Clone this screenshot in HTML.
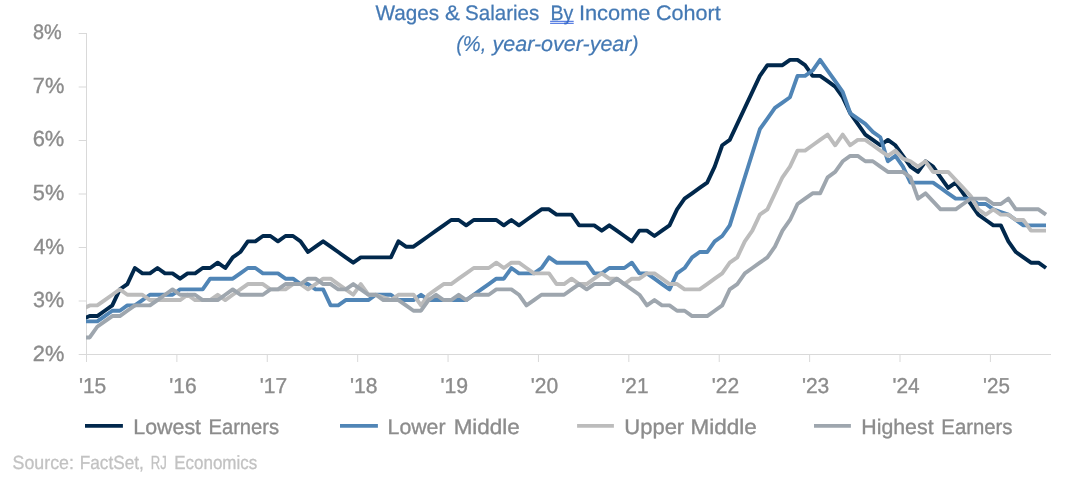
<!DOCTYPE html>
<html><head><meta charset="utf-8"><title>Wages &amp; Salaries By Income Cohort</title>
<style>html,body{margin:0;padding:0;background:#fff;}body{width:1087px;height:484px;overflow:hidden;}
svg{display:block;font-family:"Liberation Sans", sans-serif;will-change:transform;}</style></head>
<body>
<svg width="1087" height="484" viewBox="0 0 1087 484" text-rendering="geometricPrecision">
<defs><clipPath id="pa"><rect x="86" y="0" width="965" height="360"/></clipPath></defs>
<rect width="1087" height="484" fill="#fff"/>
<g stroke="#d9d9d9" stroke-width="1" fill="none">
<line x1="86.5" y1="33" x2="86.5" y2="355" shape-rendering="crispEdges"/>
<line x1="86" y1="354.5" x2="1050.5" y2="354.5" shape-rendering="crispEdges"/>
<line x1="78.7" y1="354.5" x2="86.5" y2="354.5"/>
<line x1="78.7" y1="301.0" x2="86.5" y2="301.0"/>
<line x1="78.7" y1="247.5" x2="86.5" y2="247.5"/>
<line x1="78.7" y1="194.0" x2="86.5" y2="194.0"/>
<line x1="78.7" y1="140.5" x2="86.5" y2="140.5"/>
<line x1="78.7" y1="87.0" x2="86.5" y2="87.0"/>
<line x1="78.7" y1="33.5" x2="86.5" y2="33.5"/>
<line x1="86.50" y1="355" x2="86.50" y2="362"/>
<line x1="176.89" y1="355" x2="176.89" y2="362"/>
<line x1="267.28" y1="355" x2="267.28" y2="362"/>
<line x1="357.67" y1="355" x2="357.67" y2="362"/>
<line x1="448.06" y1="355" x2="448.06" y2="362"/>
<line x1="538.45" y1="355" x2="538.45" y2="362"/>
<line x1="628.84" y1="355" x2="628.84" y2="362"/>
<line x1="719.23" y1="355" x2="719.23" y2="362"/>
<line x1="809.62" y1="355" x2="809.62" y2="362"/>
<line x1="900.01" y1="355" x2="900.01" y2="362"/>
<line x1="990.40" y1="355" x2="990.40" y2="362"/>
</g>
<g clip-path="url(#pa)" fill="none" stroke-width="3.9" stroke-linejoin="round" stroke-linecap="butt">
<path d="M82.17,319.28 L89.70,316.07 L97.23,316.07 L104.76,310.74 L112.29,305.40 L119.82,289.38 L127.35,284.05 L134.88,268.03 L142.41,273.37 L149.94,273.37 L157.47,268.03 L165.00,273.37 L172.53,273.37 L180.06,278.71 L187.59,273.37 L195.12,273.37 L202.65,268.03 L210.18,268.03 L217.71,262.69 L225.24,268.03 L232.77,257.36 L240.30,252.02 L247.83,241.34 L255.36,241.34 L262.89,236.00 L270.42,236.00 L277.95,241.34 L285.48,236.00 L293.01,236.00 L300.54,241.34 L308.07,252.02 L315.60,246.68 L323.13,241.34 L330.66,246.68 L338.19,252.02 L345.72,257.36 L353.25,262.69 L360.78,257.36 L368.31,257.36 L375.84,257.36 L383.37,257.36 L390.90,257.36 L398.43,241.34 L405.96,246.68 L413.49,246.68 L421.02,241.34 L428.55,236.00 L436.08,230.67 L443.61,225.33 L451.14,219.99 L458.67,219.99 L466.20,225.33 L473.73,219.99 L481.26,219.99 L488.79,219.99 L496.32,219.99 L503.85,225.33 L511.38,219.99 L518.91,225.33 L526.44,219.99 L533.97,214.65 L541.50,209.31 L549.03,209.31 L556.56,214.65 L564.09,214.65 L571.62,214.65 L579.15,225.33 L586.68,225.33 L594.21,225.33 L601.74,230.67 L609.27,225.33 L616.80,230.67 L624.33,236.00 L631.86,241.34 L639.39,230.67 L646.92,230.67 L654.45,236.00 L661.98,230.67 L669.51,225.33 L677.04,209.31 L684.57,198.64 L692.10,193.30 L699.63,187.96 L707.16,182.62 L714.69,166.61 L722.22,145.26 L729.75,139.92 L737.28,123.91 L744.81,107.89 L752.34,91.88 L759.87,75.86 L767.40,65.19 L774.93,65.19 L782.46,65.19 L789.99,59.85 L797.52,59.85 L805.05,65.19 L812.58,75.86 L820.11,75.86 L827.64,81.20 L835.17,86.54 L842.70,97.22 L850.23,113.23 L857.76,123.91 L865.29,134.58 L872.82,139.92 L880.35,145.26 L887.88,139.92 L895.41,145.26 L902.94,155.93 L910.47,166.61 L918.00,171.95 L925.53,161.27 L933.06,166.61 L940.59,177.29 L948.12,187.96 L955.65,182.62 L963.18,193.30 L970.71,203.98 L978.24,214.65 L985.77,219.99 L993.30,225.33 L1000.83,225.33 L1008.36,241.34 L1015.89,252.02 L1023.42,257.36 L1030.95,262.69 L1038.48,262.69 L1046.01,268.03" stroke="#01284c"/>
<path d="M82.17,321.41 L89.70,321.41 L97.23,321.41 L104.76,316.07 L112.29,310.74 L119.82,310.74 L127.35,305.40 L134.88,305.40 L142.41,300.06 L149.94,294.72 L157.47,294.72 L165.00,294.72 L172.53,294.72 L180.06,289.38 L187.59,289.38 L195.12,289.38 L202.65,289.38 L210.18,278.71 L217.71,278.71 L225.24,278.71 L232.77,278.71 L240.30,273.37 L247.83,268.03 L255.36,268.03 L262.89,273.37 L270.42,273.37 L277.95,273.37 L285.48,278.71 L293.01,278.71 L300.54,284.05 L308.07,284.05 L315.60,289.38 L323.13,289.38 L330.66,305.40 L338.19,305.40 L345.72,300.06 L353.25,300.06 L360.78,300.06 L368.31,300.06 L375.84,294.72 L383.37,294.72 L390.90,294.72 L398.43,300.06 L405.96,300.06 L413.49,300.06 L421.02,294.72 L428.55,300.06 L436.08,300.06 L443.61,300.06 L451.14,300.06 L458.67,300.06 L466.20,300.06 L473.73,294.72 L481.26,289.38 L488.79,284.05 L496.32,278.71 L503.85,278.71 L511.38,268.03 L518.91,273.37 L526.44,273.37 L533.97,273.37 L541.50,268.03 L549.03,257.36 L556.56,262.69 L564.09,262.69 L571.62,262.69 L579.15,262.69 L586.68,262.69 L594.21,273.37 L601.74,273.37 L609.27,268.03 L616.80,268.03 L624.33,268.03 L631.86,262.69 L639.39,273.37 L646.92,273.37 L654.45,278.71 L661.98,284.05 L669.51,289.38 L677.04,273.37 L684.57,268.03 L692.10,257.36 L699.63,252.02 L707.16,252.02 L714.69,241.34 L722.22,236.00 L729.75,225.33 L737.28,201.31 L744.81,177.29 L752.34,153.26 L759.87,129.24 L767.40,118.57 L774.93,107.89 L782.46,102.55 L789.99,97.22 L797.52,75.86 L805.05,75.86 L812.58,70.53 L820.11,59.85 L827.64,70.53 L835.17,81.20 L842.70,91.88 L850.23,113.23 L857.76,118.57 L865.29,123.91 L872.82,131.91 L880.35,137.25 L887.88,161.27 L895.41,155.93 L902.94,166.61 L910.47,182.62 L918.00,182.62 L925.53,182.62 L933.06,182.62 L940.59,187.96 L948.12,193.30 L955.65,198.64 L963.18,198.64 L970.71,198.64 L978.24,203.98 L985.77,203.98 L993.30,209.31 L1000.83,211.98 L1008.36,214.65 L1015.89,219.99 L1023.42,225.33 L1030.95,225.33 L1038.48,225.33 L1046.01,225.33" stroke="#5085b6"/>
<path d="M82.17,309.13 L89.70,305.40 L97.23,305.40 L104.76,300.06 L112.29,294.72 L119.82,289.38 L127.35,294.72 L134.88,294.72 L142.41,294.72 L149.94,300.06 L157.47,300.06 L165.00,300.06 L172.53,300.06 L180.06,300.06 L187.59,294.72 L195.12,300.06 L202.65,300.06 L210.18,300.06 L217.71,294.72 L225.24,300.06 L232.77,294.72 L240.30,289.38 L247.83,284.05 L255.36,284.05 L262.89,284.05 L270.42,289.38 L277.95,289.38 L285.48,289.38 L293.01,284.05 L300.54,284.05 L308.07,289.38 L315.60,284.05 L323.13,278.71 L330.66,278.71 L338.19,284.05 L345.72,289.38 L353.25,294.72 L360.78,284.05 L368.31,294.72 L375.84,294.72 L383.37,297.39 L390.90,300.06 L398.43,294.72 L405.96,294.72 L413.49,294.72 L421.02,305.40 L428.55,294.72 L436.08,289.38 L443.61,284.05 L451.14,284.05 L458.67,278.71 L466.20,273.37 L473.73,268.03 L481.26,268.03 L488.79,268.03 L496.32,262.69 L503.85,268.03 L511.38,262.69 L518.91,262.69 L526.44,268.03 L533.97,273.37 L541.50,273.37 L549.03,273.37 L556.56,284.05 L564.09,284.05 L571.62,278.71 L579.15,284.05 L586.68,284.05 L594.21,278.71 L601.74,273.37 L609.27,278.71 L616.80,278.71 L624.33,284.05 L631.86,278.71 L639.39,278.71 L646.92,273.37 L654.45,273.37 L661.98,278.71 L669.51,284.05 L677.04,284.05 L684.57,289.38 L692.10,289.38 L699.63,289.38 L707.16,284.05 L714.69,278.71 L722.22,273.37 L729.75,262.69 L737.28,257.36 L744.81,241.34 L752.34,230.67 L759.87,214.65 L767.40,209.31 L774.93,193.30 L782.46,177.29 L789.99,166.61 L797.52,150.60 L805.05,150.60 L812.58,145.26 L820.11,139.92 L827.64,134.58 L835.17,145.26 L842.70,134.58 L850.23,145.26 L857.76,139.92 L865.29,139.92 L872.82,145.26 L880.35,150.60 L887.88,155.93 L895.41,150.60 L902.94,158.60 L910.47,161.27 L918.00,166.61 L925.53,161.27 L933.06,171.95 L940.59,171.95 L948.12,171.95 L955.65,179.95 L963.18,187.96 L970.71,195.97 L978.24,209.31 L985.77,214.65 L993.30,209.31 L1000.83,214.65 L1008.36,214.65 L1015.89,219.99 L1023.42,219.99 L1030.95,230.67 L1038.48,230.67 L1046.01,230.67" stroke="#bcbcbc"/>
<path d="M82.17,337.43 L89.70,337.43 L97.23,326.75 L104.76,321.41 L112.29,316.07 L119.82,316.07 L127.35,310.74 L134.88,305.40 L142.41,305.40 L149.94,305.40 L157.47,300.06 L165.00,294.72 L172.53,289.38 L180.06,294.72 L187.59,294.72 L195.12,294.72 L202.65,300.06 L210.18,300.06 L217.71,300.06 L225.24,294.72 L232.77,289.38 L240.30,294.72 L247.83,294.72 L255.36,294.72 L262.89,294.72 L270.42,289.38 L277.95,289.38 L285.48,284.05 L293.01,284.05 L300.54,284.05 L308.07,278.71 L315.60,278.71 L323.13,284.05 L330.66,284.05 L338.19,289.38 L345.72,289.38 L353.25,284.05 L360.78,289.38 L368.31,294.72 L375.84,294.72 L383.37,300.06 L390.90,300.06 L398.43,300.06 L405.96,305.40 L413.49,310.74 L421.02,310.74 L428.55,300.06 L436.08,294.72 L443.61,300.06 L451.14,300.06 L458.67,294.72 L466.20,300.06 L473.73,294.72 L481.26,294.72 L488.79,294.72 L496.32,289.38 L503.85,289.38 L511.38,289.38 L518.91,294.72 L526.44,305.40 L533.97,300.06 L541.50,294.72 L549.03,294.72 L556.56,294.72 L564.09,294.72 L571.62,289.38 L579.15,284.05 L586.68,289.38 L594.21,284.05 L601.74,284.05 L609.27,284.05 L616.80,278.71 L624.33,284.05 L631.86,289.38 L639.39,294.72 L646.92,305.40 L654.45,300.06 L661.98,305.40 L669.51,305.40 L677.04,310.74 L684.57,310.74 L692.10,316.07 L699.63,316.07 L707.16,316.07 L714.69,310.74 L722.22,305.40 L729.75,289.38 L737.28,284.05 L744.81,273.37 L752.34,268.03 L759.87,262.69 L767.40,257.36 L774.93,246.68 L782.46,230.67 L789.99,219.99 L797.52,203.98 L805.05,198.64 L812.58,193.30 L820.11,193.30 L827.64,177.29 L835.17,171.95 L842.70,161.27 L850.23,155.93 L857.76,155.93 L865.29,161.27 L872.82,161.27 L880.35,166.61 L887.88,171.95 L895.41,171.95 L902.94,171.95 L910.47,177.29 L918.00,198.64 L925.53,193.30 L933.06,201.31 L940.59,209.31 L948.12,209.31 L955.65,209.31 L963.18,203.98 L970.71,198.64 L978.24,198.64 L985.77,198.64 L993.30,203.98 L1000.83,203.98 L1008.36,198.64 L1015.89,209.31 L1023.42,209.31 L1030.95,209.31 L1038.48,209.31 L1046.01,214.65" stroke="#9ea6ae"/>
</g>
<line x1="85.0" y1="425.9" x2="122.9" y2="425.9" stroke="#01284c" stroke-width="3.9"/>
<line x1="340.0" y1="425.9" x2="377.9" y2="425.9" stroke="#5085b6" stroke-width="3.9"/>
<line x1="577.1" y1="425.9" x2="613.9" y2="425.9" stroke="#bcbcbc" stroke-width="3.9"/>
<line x1="814.0" y1="425.9" x2="850.9" y2="425.9" stroke="#9ea6ae" stroke-width="3.9"/>
<text x="32.91" y="39.10" font-size="21.00" textLength="28.70" lengthAdjust="spacingAndGlyphs" fill="#8c8c8c" stroke="#8c8c8c" stroke-width="0.35">8%</text>
<text x="32.78" y="93.30" font-size="21.90" textLength="31.58" lengthAdjust="spacingAndGlyphs" fill="#8c8c8c" stroke="#8c8c8c" stroke-width="0.35">7%</text>
<text x="32.66" y="146.40" font-size="21.90" textLength="31.67" lengthAdjust="spacingAndGlyphs" fill="#8c8c8c" stroke="#8c8c8c" stroke-width="0.35">6%</text>
<text x="32.78" y="200.30" font-size="21.90" textLength="31.50" lengthAdjust="spacingAndGlyphs" fill="#8c8c8c" stroke="#8c8c8c" stroke-width="0.35">5%</text>
<text x="33.46" y="253.80" font-size="21.90" textLength="30.90" lengthAdjust="spacingAndGlyphs" fill="#8c8c8c" stroke="#8c8c8c" stroke-width="0.35">4%</text>
<text x="33.12" y="306.90" font-size="21.90" textLength="31.16" lengthAdjust="spacingAndGlyphs" fill="#8c8c8c" stroke="#8c8c8c" stroke-width="0.35">3%</text>
<text x="32.80" y="361.30" font-size="21.90" textLength="31.54" lengthAdjust="spacingAndGlyphs" fill="#8c8c8c" stroke="#8c8c8c" stroke-width="0.35">2%</text>
<text x="78.88" y="392.70" font-size="21.50" textLength="27.44" lengthAdjust="spacingAndGlyphs" fill="#8c8c8c" stroke="#8c8c8c" stroke-width="0.35">'15</text>
<text x="169.37" y="392.70" font-size="21.50" textLength="27.35" lengthAdjust="spacingAndGlyphs" fill="#8c8c8c" stroke="#8c8c8c" stroke-width="0.35">'16</text>
<text x="259.73" y="392.70" font-size="21.50" textLength="27.37" lengthAdjust="spacingAndGlyphs" fill="#8c8c8c" stroke="#8c8c8c" stroke-width="0.35">'17</text>
<text x="349.94" y="392.70" font-size="21.50" textLength="27.47" lengthAdjust="spacingAndGlyphs" fill="#8c8c8c" stroke="#8c8c8c" stroke-width="0.35">'18</text>
<text x="440.44" y="392.70" font-size="21.50" textLength="27.70" lengthAdjust="spacingAndGlyphs" fill="#8c8c8c" stroke="#8c8c8c" stroke-width="0.35">'19</text>
<text x="530.73" y="392.70" font-size="21.50" textLength="27.39" lengthAdjust="spacingAndGlyphs" fill="#8c8c8c" stroke="#8c8c8c" stroke-width="0.35">'20</text>
<text x="621.35" y="392.70" font-size="21.50" textLength="27.13" lengthAdjust="spacingAndGlyphs" fill="#8c8c8c" stroke="#8c8c8c" stroke-width="0.35">'21</text>
<text x="711.72" y="392.70" font-size="21.50" textLength="27.34" lengthAdjust="spacingAndGlyphs" fill="#8c8c8c" stroke="#8c8c8c" stroke-width="0.35">'22</text>
<text x="801.94" y="392.70" font-size="21.50" textLength="27.32" lengthAdjust="spacingAndGlyphs" fill="#8c8c8c" stroke="#8c8c8c" stroke-width="0.35">'23</text>
<text x="892.55" y="392.70" font-size="21.50" textLength="27.10" lengthAdjust="spacingAndGlyphs" fill="#8c8c8c" stroke="#8c8c8c" stroke-width="0.35">'24</text>
<text x="983.05" y="392.70" font-size="21.50" textLength="26.86" lengthAdjust="spacingAndGlyphs" fill="#8c8c8c" stroke="#8c8c8c" stroke-width="0.35">'25</text>
<text x="375.43" y="19.50" font-size="21.00" textLength="63.74" lengthAdjust="spacingAndGlyphs" fill="#4479b4" stroke="#4479b4" stroke-width="0.25">Wages</text>
<text x="444.97" y="19.50" font-size="21.00" textLength="14.88" lengthAdjust="spacingAndGlyphs" fill="#4479b4" stroke="#4479b4" stroke-width="0.25">&amp;</text>
<text x="465.11" y="19.50" font-size="21.00" textLength="74.19" lengthAdjust="spacingAndGlyphs" fill="#4479b4" stroke="#4479b4" stroke-width="0.25">Salaries</text>
<text x="550.54" y="19.50" font-size="21.00" textLength="22.81" lengthAdjust="spacingAndGlyphs" fill="#4479b4" stroke="#4479b4" stroke-width="0.25">By</text>
<text x="578.91" y="19.50" font-size="21.00" textLength="71.62" lengthAdjust="spacingAndGlyphs" fill="#4479b4" stroke="#4479b4" stroke-width="0.25">Income</text>
<text x="655.97" y="19.50" font-size="21.00" textLength="64.67" lengthAdjust="spacingAndGlyphs" fill="#4479b4" stroke="#4479b4" stroke-width="0.25">Cohort</text>
<text x="456.17" y="51.00" font-size="21.30" textLength="30.15" lengthAdjust="spacingAndGlyphs" fill="#4479b4" font-style="italic" stroke="#4479b4" stroke-width="0.2">(%,</text>
<text x="492.55" y="51.00" font-size="21.30" textLength="146.07" lengthAdjust="spacingAndGlyphs" fill="#4479b4" font-style="italic" stroke="#4479b4" stroke-width="0.2">year-over-year)</text>
<text x="133.39" y="433.70" font-size="21.20" textLength="67.64" lengthAdjust="spacingAndGlyphs" fill="#8c8c8c" stroke="#8c8c8c" stroke-width="0.35">Lowest</text>
<text x="208.44" y="433.70" font-size="21.20" textLength="70.68" lengthAdjust="spacingAndGlyphs" fill="#8c8c8c" stroke="#8c8c8c" stroke-width="0.35">Earners</text>
<text x="387.59" y="433.70" font-size="21.20" textLength="57.96" lengthAdjust="spacingAndGlyphs" fill="#8c8c8c" stroke="#8c8c8c" stroke-width="0.35">Lower</text>
<text x="453.65" y="433.70" font-size="21.20" textLength="66.07" lengthAdjust="spacingAndGlyphs" fill="#8c8c8c" stroke="#8c8c8c" stroke-width="0.35">Middle</text>
<text x="624.32" y="433.70" font-size="21.20" textLength="59.89" lengthAdjust="spacingAndGlyphs" fill="#8c8c8c" stroke="#8c8c8c" stroke-width="0.35">Upper</text>
<text x="690.49" y="433.70" font-size="21.20" textLength="66.24" lengthAdjust="spacingAndGlyphs" fill="#8c8c8c" stroke="#8c8c8c" stroke-width="0.35">Middle</text>
<text x="861.31" y="433.70" font-size="21.20" textLength="72.26" lengthAdjust="spacingAndGlyphs" fill="#8c8c8c" stroke="#8c8c8c" stroke-width="0.35">Highest</text>
<text x="941.32" y="433.70" font-size="21.20" textLength="71.23" lengthAdjust="spacingAndGlyphs" fill="#8c8c8c" stroke="#8c8c8c" stroke-width="0.35">Earners</text>
<text x="12.57" y="469.10" font-size="19.00" textLength="61.33" lengthAdjust="spacingAndGlyphs" fill="#c2c2c2" stroke="#c2c2c2" stroke-width="0.3">Source:</text>
<text x="79.73" y="469.10" font-size="19.00" textLength="64.13" lengthAdjust="spacingAndGlyphs" fill="#c2c2c2" stroke="#c2c2c2" stroke-width="0.3">FactSet,</text>
<text x="150.68" y="469.10" font-size="19.00" textLength="16.04" lengthAdjust="spacingAndGlyphs" fill="#c2c2c2" stroke="#c2c2c2" stroke-width="0.3">RJ</text>
<text x="174.16" y="469.10" font-size="19.00" textLength="83.09" lengthAdjust="spacingAndGlyphs" fill="#c2c2c2" stroke="#c2c2c2" stroke-width="0.3">Economics</text>
<rect x="550.1" y="20.8" width="23.6" height="1" fill="#3563dc"/>
<rect x="550.1" y="22.8" width="23.6" height="1" fill="#3563dc"/>
</svg>
</body></html>
